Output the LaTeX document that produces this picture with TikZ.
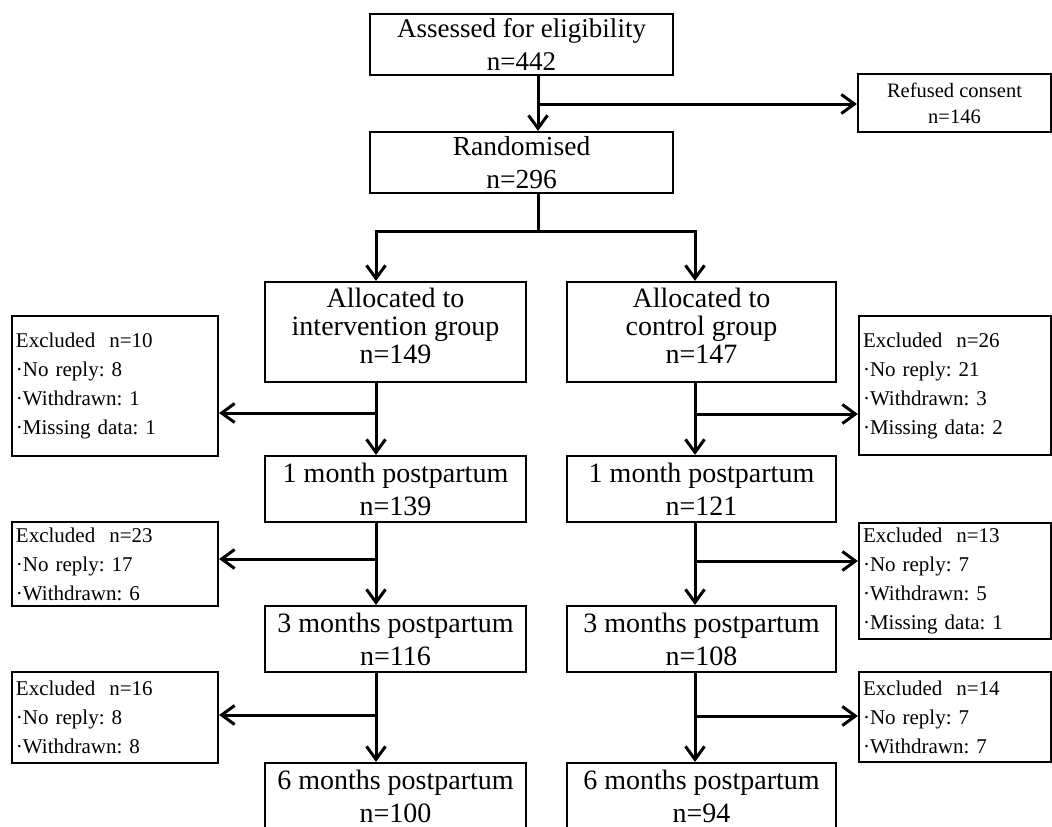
\documentclass[tikz,border=0pt]{standalone}
\usepackage{fontspec}
\setmainfont{Liberation Serif}
\usetikzlibrary{arrows.meta}
\frenchspacing
\newcommand{\lowstrut}{\rule[-12.4pt]{0pt}{12.4pt}}
\begin{document}
\begin{tikzpicture}[x=1pt,y=-1pt,
  box/.style={draw,line width=2.2pt,inner sep=0pt,align=center,font=\fontsize{28}{33}\selectfont},
  mainbox/.style={box,minimum width=261pt,minimum height=66pt},
  rmainbox/.style={box,minimum width=269pt,minimum height=66pt},
  exbox/.style={draw,line width=2.2pt,inner ysep=0pt,inner xsep=4pt,align=left,text width=198pt,font=\fontsize{21}{29}\selectfont},
  rexbox/.style={exbox,text width=184pt},
  conn/.style={line width=3pt},
  tip/.tip={Straight Barb[length=13pt,width=19pt]}]
\useasboundingbox (0,0) rectangle (1052,827);
% nodes
\node[box,minimum width=303pt,minimum height=61pt,font=\fontsize{27}{33}\selectfont] (A) at (521.5,44.5) {Assessed for eligibility\\n=442};
\node[box,minimum width=303pt,minimum height=61pt,font=\fontsize{27.5}{33}\selectfont] (R) at (521.5,162.5) {Randomised\\n=296};
\node[box,minimum width=193pt,minimum height=58pt,font=\fontsize{20.5}{26}\selectfont] (RC) at (954.5,103) {Refused consent\\n=146};
\node[box,minimum width=261pt,minimum height=100pt,font=\fontsize{28}{28}\selectfont] (AL) at (395.5,332) {Allocated to\\intervention group\\n=149\lowstrut};
\node[box,minimum width=269pt,minimum height=100pt,font=\fontsize{28}{28}\selectfont] (AR) at (701.5,332) {Allocated to\\control group\\n=147\lowstrut};
\node[exbox,minimum height=140pt] (E1L) at (115,386) {Excluded\hspace{14pt}n=10\\\textperiodcentered No reply: 8\\\textperiodcentered Withdrawn: 1\\\textperiodcentered Missing data: 1};
\node[rexbox,minimum height=139pt] (E1R) at (955,385.5) {Excluded\hspace{14pt}n=26\\\textperiodcentered No reply: 21\\\textperiodcentered Withdrawn: 3\\\textperiodcentered Missing data: 2};
\node[mainbox] (M1L) at (395.5,489) {1 month postpartum\\n=139};
\node[rmainbox] (M1R) at (701.5,489) {1 month postpartum\\n=121};
\node[exbox,minimum height=84pt] (E2L) at (115,564) {Excluded\hspace{14pt}n=23\\\textperiodcentered No reply: 17\\\textperiodcentered Withdrawn: 6};
\node[rexbox,minimum height=116pt] (E2R) at (955,581) {Excluded\hspace{14pt}n=13\\\textperiodcentered No reply: 7\\\textperiodcentered Withdrawn: 5\\\textperiodcentered Missing data: 1};
\node[mainbox] (M3L) at (395.5,639) {3 months postpartum\\n=116};
\node[rmainbox] (M3R) at (701.5,639) {3 months postpartum\\n=108};
\node[exbox,minimum height=91pt] (E3L) at (115,717.5) {Excluded\hspace{14pt}n=16\\\textperiodcentered No reply: 8\\\textperiodcentered Withdrawn: 8};
\node[rexbox,minimum height=90pt] (E3R) at (955,717) {Excluded\hspace{14pt}n=14\\\textperiodcentered No reply: 7\\\textperiodcentered Withdrawn: 7};
\node[mainbox] (M6L) at (395.5,796) {6 months postpartum\\n=100};
\node[rmainbox] (M6R) at (701.5,796) {6 months postpartum\\n=94};
% coordinates
\coordinate (c0) at (538,0);
\coordinate (cl) at (376,0);
\coordinate (cr) at (695,0);
\coordinate (s) at (538,231);
\coordinate (b0) at (538,104);
\coordinate (b1l) at (376,413);
\coordinate (b1r) at (695,414);
\coordinate (b2l) at (376,559);
\coordinate (b2r) at (695,561);
\coordinate (b3l) at (376,715);
\coordinate (b3r) at (695,716);
% connectors
\draw[conn,-tip] (A.south -| c0) -- (R.north -| c0);
\draw[conn,-tip] (b0) -- (b0 -| RC.west);
\draw[conn] (R.south -| c0) -- (s);
\draw[conn,-tip] (s) -| (AL.north -| cl);
\draw[conn,-tip] (s) -| (AR.north -| cr);
\draw[conn,-tip] (AL.south -| cl) -- (M1L.north -| cl);
\draw[conn,-tip] (b1l) -- (b1l -| E1L.east);
\draw[conn,-tip] (AR.south -| cr) -- (M1R.north -| cr);
\draw[conn,-tip] (b1r) -- (b1r -| E1R.west);
\draw[conn,-tip] (M1L.south -| cl) -- (M3L.north -| cl);
\draw[conn,-tip] (b2l) -- (b2l -| E2L.east);
\draw[conn,-tip] (M1R.south -| cr) -- (M3R.north -| cr);
\draw[conn,-tip] (b2r) -- (b2r -| E2R.west);
\draw[conn,-tip] (M3L.south -| cl) -- (M6L.north -| cl);
\draw[conn,-tip] (b3l) -- (b3l -| E3L.east);
\draw[conn,-tip] (M3R.south -| cr) -- (M6R.north -| cr);
\draw[conn,-tip] (b3r) -- (b3r -| E3R.west);
\end{tikzpicture}
\end{document}
